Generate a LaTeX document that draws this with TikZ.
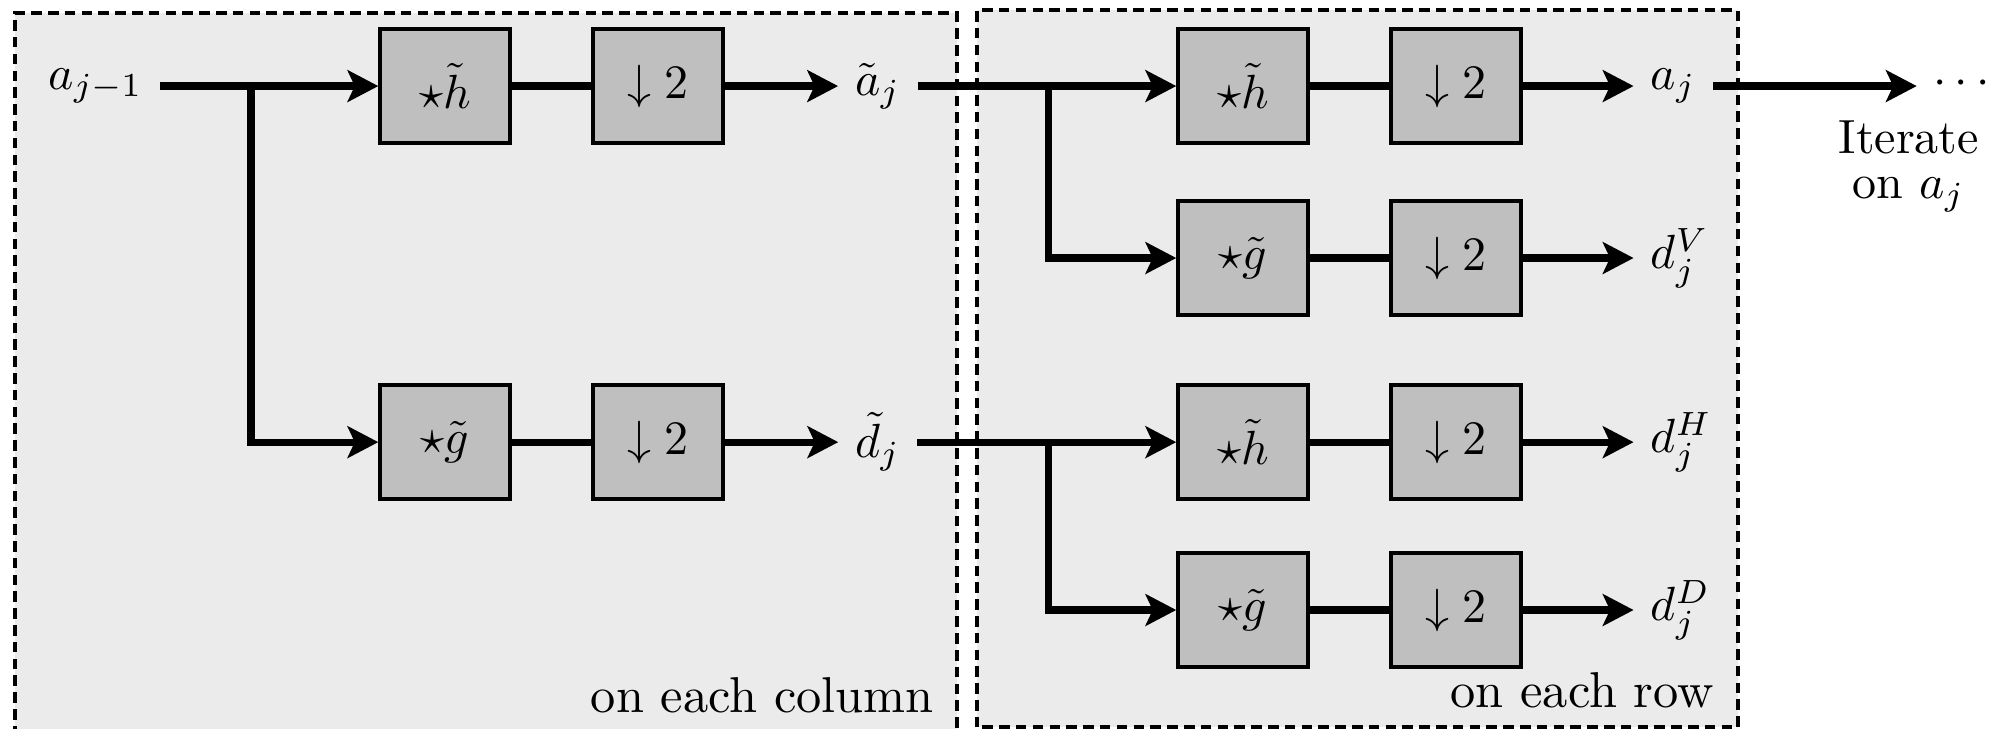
\documentclass[tikz,border=0pt]{standalone}
\usepackage{amssymb}
\usepackage{amsmath}
\usetikzlibrary{arrows.meta}

\begin{document}
\begin{tikzpicture}
\tikzset{block/.style = {shape=rectangle,draw,fill=black!25,line width=0.75pt,minimum width=0.95cm,minimum height=0.835cm}}
\tikzset{edge/.style = {line width=1.5pt,-{Stealth[length=6.4pt,width=6.6pt,inset=1.5pt]}}}
\tikzset{wire/.style = {line width=1.5pt}}
\tikzset{stage/.style = {fill=black!8,draw,line width=0.9pt,dash pattern=on 2.2pt off 1.3pt}}
\tikzset{caption/.style = {anchor=base east,inner sep=0pt,font=\fontsize{10.5}{12}\selectfont}}
\useasboundingbox (0,0) rectangle (14.65,5.337);
% the two stages
\path[stage] (0.11,-0.3) rectangle (7.006,5.24);
\path[stage] (7.152,0.012) rectangle (12.723,5.263);
\node[caption] (col) at (6.845,0.124) {on each column};
\node[caption] (row) at (12.555,0.154) {on each row};
% first stage
\node (ap) at (0.70,4.707) {$a_{j-1}$};
\node[block] (h1) at (3.258,4.707) {$\star\tilde{h}$};
\node[block] (d1) at (4.817,4.707) {$\downarrow 2$};
\node[block] (g1) at (3.258,2.10) {$\star\tilde{g}$};
\node[block] (d2) at (4.817,2.10) {$\downarrow 2$};
\node (at) at (6.427,4.707) {$\tilde{a}_j$};
\node (dt) at (6.427,2.10) {$\tilde{d}_j$};
\coordinate (s1) at (1.837,4.707);
% second stage
\node[block] (h2) at (9.10,4.707) {$\star\tilde{h}$};
\node[block] (d3) at (10.66,4.707) {$\downarrow 2$};
\node[block] (g2) at (9.10,3.448) {$\star\tilde{g}$};
\node[block] (d4) at (10.66,3.448) {$\downarrow 2$};
\node[block] (h3) at (9.10,2.10) {$\star\tilde{h}$};
\node[block] (d5) at (10.66,2.10) {$\downarrow 2$};
\node[block] (g3) at (9.10,0.871) {$\star\tilde{g}$};
\node[block] (d6) at (10.66,0.871) {$\downarrow 2$};
\node[anchor=west] (aj) at (11.96,4.707) {$a_j$};
\node[anchor=west] (dv) at (11.96,3.448) {$d_j^V$};
\node[anchor=west] (dh) at (11.96,2.10) {$d_j^H$};
\node[anchor=west] (dd) at (11.96,0.871) {$d_j^D$};
\coordinate (s2) at (7.679,4.707);
\coordinate (s3) at (7.679,2.10);
% next level
\coordinate (nx) at (14.033,4.707);
\node (dots) at (14.39,4.72) {$\cdots$};
\node[align=center,font=\fontsize{10}{9.4}\selectfont] (it) at (13.975,4.12) {Iterate\\on $a_j$};
% connections
\draw[edge] (ap) -- (h1);
\draw[edge] (s1) |- (g1);
\draw[wire] (h1) -- (d1);
\draw[wire] (g1) -- (d2);
\draw[edge] (d1) -- (at);
\draw[edge] (d2) -- (dt);
\draw[edge] (at) -- (h2);
\draw[edge] (s2) |- (g2);
\draw[edge] (dt) -- (h3);
\draw[edge] (s3) |- (g3);
\draw[wire] (h2) -- (d3);
\draw[wire] (g2) -- (d4);
\draw[wire] (h3) -- (d5);
\draw[wire] (g3) -- (d6);
\draw[edge] (d3) -- (aj);
\draw[edge] (d4) -- (dv);
\draw[edge] (d5) -- (dh);
\draw[edge] (d6) -- (dd);
\draw[edge] (aj) -- (nx);
\end{tikzpicture}
\end{document}
